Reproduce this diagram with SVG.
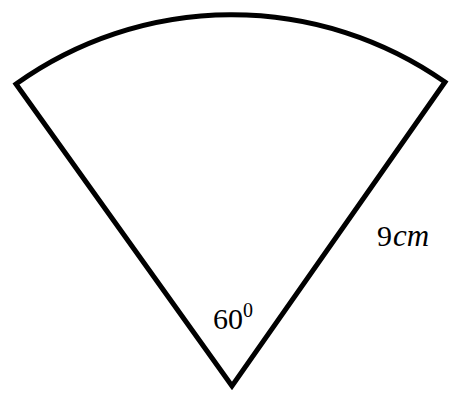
<svg xmlns="http://www.w3.org/2000/svg" width="449" height="394" viewBox="0 0 449 394">
<style>
.shape{fill:none;stroke:#000;stroke-width:5;stroke-linejoin:miter;stroke-miterlimit:10}
.lbl{font-family:"Liberation Serif","DejaVu Serif",serif;font-size:30px;fill:#000}
</style>
<rect width="449" height="394" fill="#fff"/>
<g id="sector">
<path class="shape" d="M232,386 L16,84 A371,371 0 0 1 445,82 Z"/>
</g>
<g id="angle-label">
<text class="lbl" x="213" y="329">60<tspan font-size="20" dy="-12">0</tspan></text>
</g>
<g id="radius-label">
<text class="lbl" x="377" y="246">9<tspan font-style="italic" dx="1" font-size="31">cm</tspan></text>
</g>
</svg>
